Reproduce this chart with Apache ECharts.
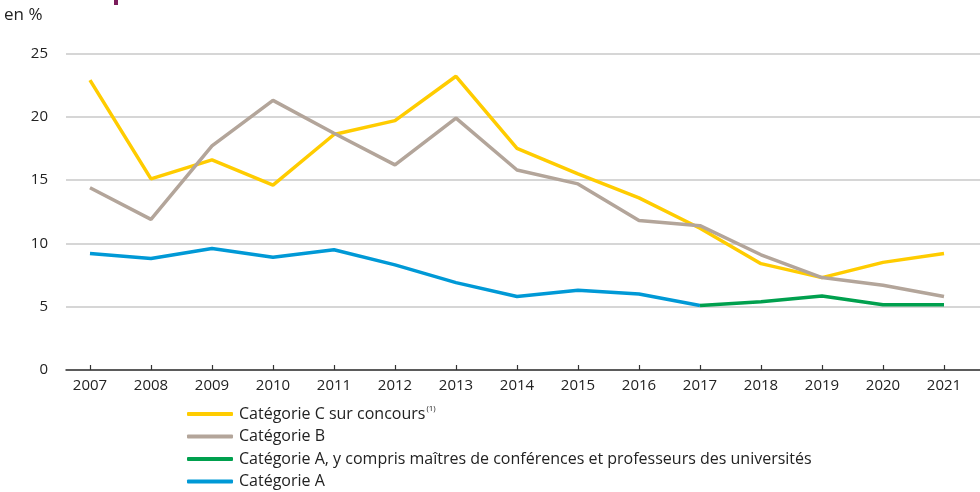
<!DOCTYPE html>
<html><head><meta charset="utf-8">
<script src="https://cdn.jsdelivr.net/npm/echarts@6/dist/echarts.min.js"></script>
<style>html,body{margin:0;padding:0;background:#fff}#c{width:980px;height:492px}</style>
</head><body><div id="c"></div>
<script>
const years = [2007,2008,2009,2010,2011,2012,2013,2014,2015,2016,2017,2018,2019,2020,2021];
const catC = [22.9,15.1,16.6,14.6,18.6,19.7,23.2,17.5,15.5,13.6,11.2,8.4,7.3,8.5,9.2];
const catB = [14.4,11.9,17.7,21.3,18.7,16.2,19.9,15.8,14.7,11.8,11.4,9.1,7.3,6.7,5.8];
const catAUniv = [null,null,null,null,null,null,null,null,null,null,5.1,5.4,5.85,5.15,5.15];
const catA = [9.2,8.8,9.6,8.9,9.5,8.3,6.9,5.8,6.3,6.0,5.1,null,null,null,null];
const yTicks = [0,5,10,15,20,25];
const names = ['Catégorie C sur concours','Catégorie B','Catégorie A, y compris maîtres de conférences et professeurs des universités','Catégorie A'];
const colors = ['#FFCC00','#B3A59A','#00A04E','#0099D6'];

const pairs = arr => years.map((y,i)=>[y,arr[i]]);
const FONT = 'Open Sans';
const chart = echarts.init(document.getElementById('c'));
const seriesData = [catC, catB, catAUniv, catA];
chart.setOption({
  animation:false,
  textStyle:{fontFamily:FONT},
  title:{text:'en %', left:4, top:7, padding:0, textStyle:{fontFamily:FONT,fontSize:17,fontWeight:'normal',color:'#222'}},
  graphic:[{type:'rect', shape:{x:114,y:0,width:4,height:5}, style:{fill:'#7B1C5B'}}],
  grid:{left:66,right:0,top:53.5,bottom:122},
  legend:{
    orient:'vertical', left:187, top:405, height:120, padding:0,
    itemWidth:46, itemHeight:4, itemGap:4.5, icon:'roundRect',
    data:names,
    formatter: n => n===names[0] ? '{a|'+n+'}{s|(1)}' : '{a|'+n+'}',
    textStyle:{fontFamily:FONT,fontSize:16,color:'#222',lineHeight:18,padding:[0,0,0,1],
      rich:{a:{fontFamily:FONT,fontSize:16,color:'#222'},s:{fontFamily:FONT,fontSize:8,color:'#222',verticalAlign:'top',padding:[0,0,7,1]}}}
  },
  xAxis:{
    type:'value', min:2006.607, max:2021.59,
    axisLine:{lineStyle:{color:'#333',width:1.5}},
    axisTick:{customValues:years, inside:true, length:5, lineStyle:{color:'#333',width:1.2}},
    axisLabel:{customValues:years, formatter:v=>String(v), fontFamily:FONT, fontSize:15, color:'#222', margin:8},
    splitLine:{show:false}
  },
  yAxis:{
    type:'value', min:0, max:25, interval:5,
    axisLine:{show:false}, axisTick:{show:false},
    axisLabel:{fontFamily:FONT, fontSize:15, color:'#222', margin:18},
    splitLine:{lineStyle:{color:'#c8c8c8',width:1.5}}
  },
  series: names.map((n,i)=>({
    name:n, type:'line', data:pairs(seriesData[i]), showSymbol:false, symbol:'none',
    connectNulls:false, z: i===2?5:3,
    lineStyle:{color:colors[i], width:3.5}, itemStyle:{color:colors[i]}
  }))
});
</script></body></html>
